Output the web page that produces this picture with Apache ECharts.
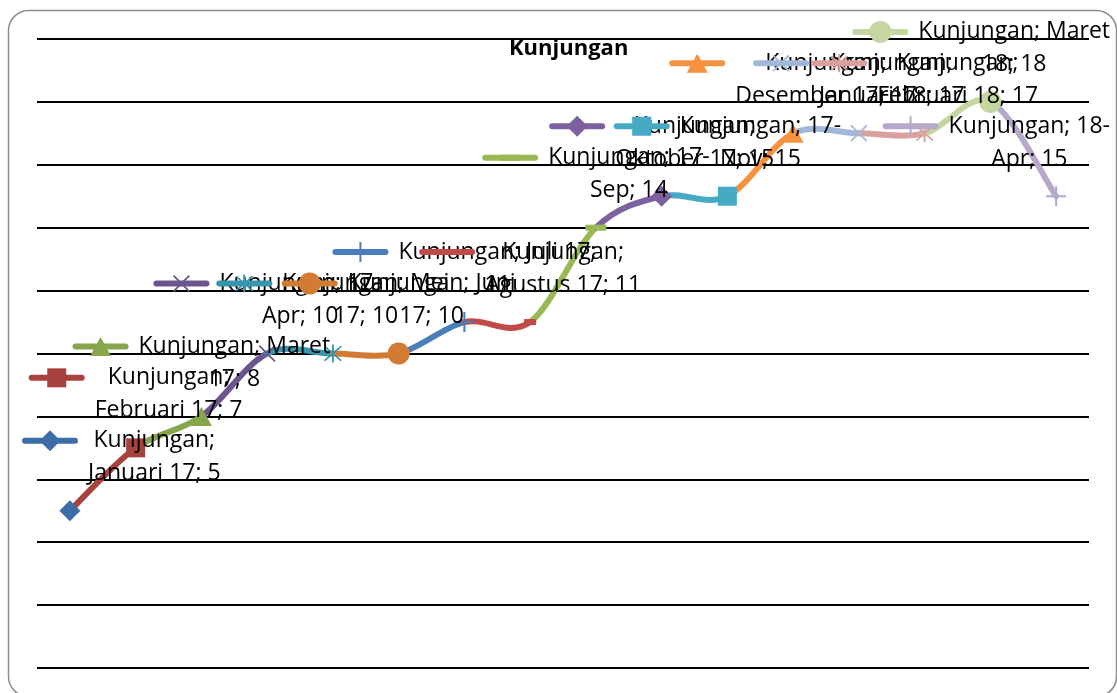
<!DOCTYPE html>
<html>
<head>
<meta charset="utf-8">
<title>Kunjungan</title>
<script src="https://cdn.jsdelivr.net/npm/echarts@6/dist/echarts.min.js"></script>
<style>
  html, body { margin: 0; padding: 0; background: #fff; }
  #chart { width: 1117px; height: 693px; }
</style>
</head>
<body>
<div id="chart"></div>
<script>
// data
const seriesName = 'Kunjungan';
const months = [
  'Januari 17', 'Februari 17', 'Maret 17', '17-Apr', 'Mei 17', 'Juni 17',
  'Juli 17', 'Agustus 17', '17-Sep', 'Oktober 17', '17-Nov', 'Desember 17',
  'Januari 18', 'Februari 18', 'Maret 18', '18-Apr'
];
const kunjungan = [5, 7, 8, 10, 10, 10, 11, 11, 14, 15, 15, 17, 17, 17, 18, 15];

// excel-like "vary colors by point": darker shades, base, lighter tints
const colors = [
  '#3d6da8', '#a8423f', '#87a54b', '#6d548f', '#3796ae', '#d27c33',
  '#4a7ebb', '#be4b48', '#98b954', '#7d60a0', '#46aac5', '#f69240',
  '#a1b8da', '#d9a09e', '#c4d7a0', '#b6a8cb'
];

function bar(x1, y1, x2, y2, w) {
  const len = Math.hypot(x2 - x1, y2 - y1);
  const nx = -(y2 - y1) / len * w, ny = (x2 - x1) / len * w;
  return `M${x1 + nx},${y1 + ny}L${x2 + nx},${y2 + ny}L${x2 - nx},${y2 - ny}L${x1 - nx},${y1 - ny}Z`;
}
const cross = bar(-8, -8, 8, 8, 0.9) + bar(-8, 8, 8, -8, 0.9);
const markers = [
  { path: 'M0,-10L10,0L0,10L-10,0Z', size: [21, 21] },            // diamond
  { path: 'M-10,-10H10V10H-10Z', size: [19, 19] },                 // square
  { path: 'M0,-10L10,9L-10,9Z', size: [21, 19] },                  // triangle
  { path: cross, size: [17, 17] },                                 // x
  { path: cross + bar(0, -10, 0, 10, 0.9), size: [18, 18] },        // star
  { path: 'M0,-10A10,10,0,1,1,0,10A10,10,0,1,1,0,-10Z', size: [22, 22] }, // circle
  { path: bar(0, -10, 0, 10, 1) + bar(-10, 0, 10, 0, 1), size: [20, 20] }, // plus
  { path: 'M-6,-3H6V3H-6Z', size: [12, 6] },                       // dash
  { path: 'M-10,-3H10V3H-10Z', size: [21, 6] }                     // long dash
];
const markerAt = i => markers[i % markers.length];

function markerShape(i, x, y) {
  const m = markerAt(i);
  return {
    type: 'path',
    shape: {
      pathData: m.path, layout: 'cover',
      x: x - m.size[0] / 2, y: y - m.size[1] / 2,
      width: m.size[0], height: m.size[1]
    },
    style: { fill: colors[i] }
  };
}

// excel style smoothed segment, coloured by the point it ends at
const SMOOTH = 1 / 6;
function renderSegment(params, api) {
  const i = api.value(0);
  if (i === 0) return null;
  const last = kunjungan.length - 1;
  const p = k => {
    const j = Math.max(0, Math.min(last, k));
    return api.coord([j, kunjungan[j]]);
  };
  const a = p(i - 2), b = p(i - 1), c = p(i), d = p(i + 1);
  return {
    type: 'bezierCurve',
    shape: {
      x1: b[0], y1: b[1],
      cpx1: b[0] + (c[0] - a[0]) * SMOOTH, cpy1: b[1] + (c[1] - a[1]) * SMOOTH,
      cpx2: c[0] - (d[0] - b[0]) * SMOOTH, cpy2: c[1] - (d[1] - b[1]) * SMOOTH,
      x2: c[0], y2: c[1]
    },
    style: { stroke: colors[i], fill: null, lineWidth: 6, lineCap: 'round' }
  };
}

function renderMarker(params, api) {
  const pt = api.coord([api.value(0), api.value(1)]);
  return markerShape(api.value(0), pt[0], pt[1]);
}

// label layout (legend key + wrapped text above the point)
const LABEL_FONT = '23px "Open Sans"';
const KEY_W = 56, KEY_GAP = 10, LINE_H = 33, LABEL_DY = 37;
const LABEL_MIN_X = 22, LABEL_MAX_X = 1110, WRAP_W = 200;

const ctx = document.createElement('canvas').getContext('2d');
ctx.font = LABEL_FONT;
const measure = s => ctx.measureText(s).width;

function wrapText(s) {
  const tokens = s.match(/[^ -]+[ -]?|[ -]/g);
  const lines = [];
  let cur = '';
  tokens.forEach(t => {
    if (cur && measure((cur + t).trimEnd()) > WRAP_W) {
      lines.push(cur.trimEnd());
      cur = t;
    } else {
      cur += t;
    }
  });
  if (cur) lines.push(cur.trimEnd());
  return lines;
}

function renderLabel(params, api) {
  const i = api.value(0);
  const v = api.value(1);
  const pt = api.coord([i, v]);
  const lines = wrapText(`${seriesName}; ${months[i]}; ${v}`);
  const textW = Math.max(...lines.map(measure));
  const blockW = KEY_W + KEY_GAP + textW;
  const left = Math.max(LABEL_MIN_X, Math.min(pt[0] - blockW / 2, LABEL_MAX_X - blockW));
  const lineY = k => pt[1] - LABEL_DY - (lines.length - 1 - k) * LINE_H;
  const children = [
    {
      type: 'line',
      shape: { x1: left + 3, y1: lineY(0), x2: left + KEY_W - 3, y2: lineY(0) },
      style: { stroke: colors[i], lineWidth: 6, lineCap: 'round' }
    },
    markerShape(i, left + KEY_W / 2, lineY(0))
  ];
  lines.forEach((t, k) => children.push({
    type: 'text',
    x: left + KEY_W + KEY_GAP + textW / 2,
    y: lineY(k),
    style: { text: t, font: LABEL_FONT, fill: '#000', align: 'center', verticalAlign: 'middle' }
  }));
  return { type: 'group', children };
}

const points = kunjungan.map((v, i) => [i, v]);

const chart = echarts.init(document.getElementById('chart'));
chart.setOption({
  backgroundColor: '#fff',
  animation: false,
  title: {
    text: seriesName,
    left: 504, top: 33,
    textStyle: { fontFamily: 'Open Sans', fontWeight: 'bold', fontSize: 22, color: '#000' }
  },
  grid: { left: 37, right: 28, top: 39, bottom: 25 },
  xAxis: {
    type: 'category',
    data: months,
    boundaryGap: true,
    axisLine: { show: false },
    axisTick: { show: false },
    axisLabel: { show: false }
  },
  yAxis: {
    type: 'value',
    min: 0, max: 20, interval: 2,
    axisLine: { show: false },
    axisTick: { show: false },
    axisLabel: { show: false },
    splitLine: { lineStyle: { color: '#000', width: 2 } }
  },
  graphic: [
    {
      type: 'rect', silent: true, z: -1,
      shape: { x: 8.5, y: 10.5, width: 1108, height: 686, r: 20 },
      style: { fill: 'none', stroke: '#8c8c8c', lineWidth: 1.5 }
    }
  ],
  series: [
    { name: seriesName, type: 'custom', z: 2, silent: true, renderItem: renderSegment, data: points },
    { name: seriesName, type: 'custom', z: 3, silent: true, renderItem: renderMarker, data: points },
    { name: seriesName, type: 'custom', z: 4, silent: true, renderItem: renderLabel, data: points }
  ]
});
</script>
</body>
</html>
